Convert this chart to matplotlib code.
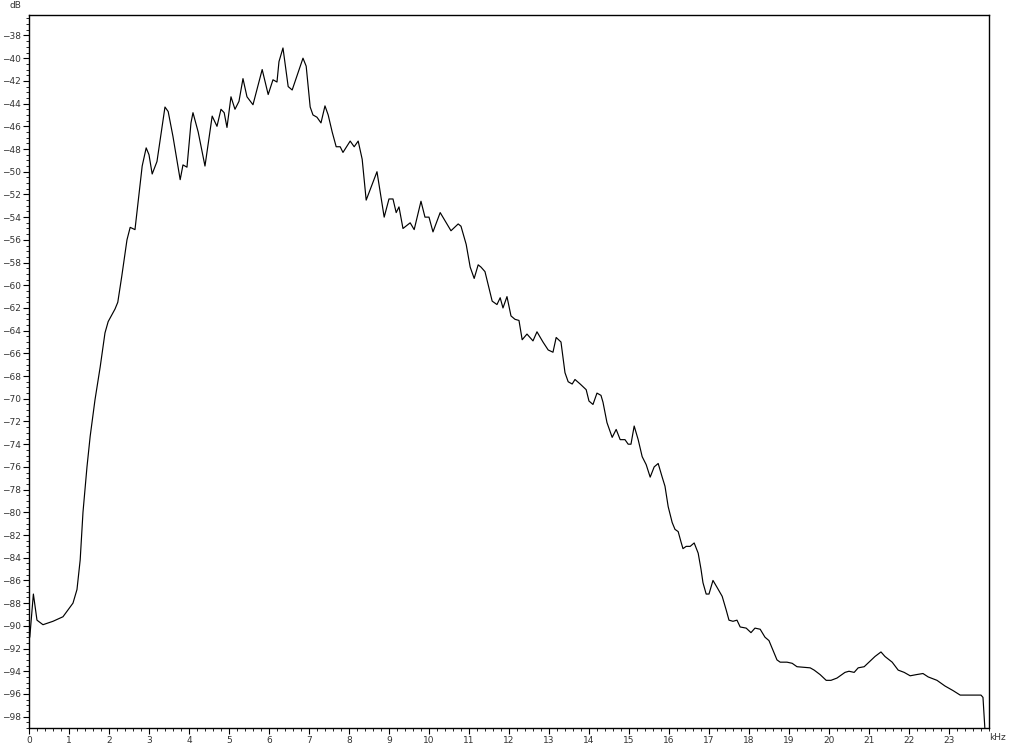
import matplotlib.pyplot as plt
from matplotlib.ticker import MultipleLocator

# spectrum (frequency in kHz, level in dB)
freq_khz = [0.0, 0.02, 0.11, 0.2, 0.35, 0.6, 0.85, 1.1, 1.2, 1.28, 1.35, 1.45,
            1.53, 1.65, 1.78, 1.9, 1.98, 2.15, 2.22, 2.32, 2.45, 2.53, 2.65, 2.83,
            2.93, 3.0, 3.08, 3.2, 3.4, 3.48, 3.6, 3.78, 3.85, 3.95, 4.05, 4.1,
            4.23, 4.4, 4.58, 4.7, 4.8, 4.88, 4.95, 5.05, 5.15, 5.25, 5.35, 5.45,
            5.6, 5.83, 5.98, 6.1, 6.2, 6.25, 6.35, 6.48, 6.58, 6.85, 6.93, 7.03,
            7.1, 7.2, 7.3, 7.4, 7.48, 7.58, 7.68, 7.78, 7.85, 8.03, 8.13, 8.23,
            8.33, 8.43, 8.7, 8.88, 9.0, 9.1, 9.18, 9.25, 9.35, 9.53, 9.63, 9.8,
            9.9, 10.0, 10.1, 10.28, 10.55, 10.73, 10.8, 10.93, 11.03, 11.13, 11.23,
            11.3, 11.4, 11.58, 11.7, 11.78, 11.85, 11.95, 12.05, 12.15, 12.25,
            12.33, 12.45, 12.6, 12.7, 12.85, 12.98, 13.1, 13.18, 13.3, 13.4, 13.48,
            13.58, 13.65, 13.78, 13.93, 14.0, 14.1, 14.2, 14.3, 14.35, 14.45,
            14.58, 14.68, 14.78, 14.9, 14.98, 15.05, 15.13, 15.23, 15.33, 15.43,
            15.53, 15.63, 15.73, 15.83, 15.9, 15.98, 16.08, 16.15, 16.23, 16.3,
            16.35, 16.43, 16.53, 16.63, 16.73, 16.8, 16.85, 16.93, 17.0, 17.1,
            17.2, 17.33, 17.43, 17.5, 17.6, 17.7, 17.78, 17.93, 18.05, 18.15,
            18.28, 18.4, 18.5, 18.7, 18.78, 18.95, 19.08, 19.2, 19.53, 19.63,
            19.78, 19.93, 20.05, 20.2, 20.4, 20.5, 20.63, 20.73, 20.88, 21.0,
            21.15, 21.3, 21.4, 21.58, 21.73, 21.88, 22.03, 22.18, 22.35, 22.48,
            22.7, 22.9, 23.1, 23.28, 23.45, 23.65, 23.8, 23.85, 23.9]
level_db = [-90.0, -91.0, -87.2, -89.5, -89.9, -89.6, -89.2, -88.0, -86.8, -84.2,
            -80.0, -76.0, -73.3, -70.1, -67.2, -64.2, -63.2, -62.1, -61.5, -59.2,
            -56.0, -54.9, -55.1, -49.5, -47.9, -48.5, -50.2, -49.1, -44.3, -44.7,
            -46.9, -50.7, -49.4, -49.6, -45.7, -44.8, -46.5, -49.5, -45.1, -46.0,
            -44.5, -44.8, -46.1, -43.4, -44.5, -43.8, -41.8, -43.4, -44.1, -41.0,
            -43.2, -41.9, -42.1, -40.3, -39.1, -42.5, -42.8, -40.0, -40.7, -44.3,
            -45.0, -45.2, -45.7, -44.2, -45.0, -46.5, -47.8, -47.8, -48.3, -47.3,
            -47.8, -47.3, -48.9, -52.5, -50.0, -54.0, -52.4, -52.4, -53.6, -53.1,
            -55.0, -54.5, -55.1, -52.6, -54.0, -54.0, -55.3, -53.6, -55.2, -54.6,
            -54.8, -56.4, -58.4, -59.4, -58.2, -58.4, -58.8, -61.4, -61.7, -61.1,
            -62.0, -61.0, -62.7, -63.0, -63.1, -64.8, -64.3, -64.9, -64.1, -65.0,
            -65.7, -65.9, -64.6, -65.0, -67.7, -68.5, -68.7, -68.3, -68.7, -69.2,
            -70.2, -70.5, -69.5, -69.7, -70.3, -72.1, -73.4, -72.7, -73.6, -73.6,
            -74.0, -74.0, -72.4, -73.6, -75.1, -75.8, -76.9, -76.0, -75.7, -76.9,
            -77.7, -79.5, -80.9, -81.5, -81.7, -82.6, -83.2, -83.0, -83.0, -82.7,
            -83.6, -85.0, -86.2, -87.2, -87.2, -86.0, -86.6, -87.4, -88.6, -89.5,
            -89.6, -89.5, -90.1, -90.2, -90.6, -90.2, -90.3, -91.0, -91.3, -93.0,
            -93.2, -93.2, -93.3, -93.6, -93.7, -93.9, -94.3, -94.8, -94.8, -94.6,
            -94.1, -94.0, -94.1, -93.7, -93.6, -93.2, -92.7, -92.3, -92.7, -93.2,
            -93.9, -94.1, -94.4, -94.3, -94.2, -94.5, -94.8, -95.3, -95.7, -96.1,
            -96.1, -96.1, -96.1, -96.3, -99.2]

fig = plt.figure(figsize=(10.24, 7.45), dpi=100)
ax = fig.add_axes([0.0283, 0.0228, 0.9375, 0.957])

ax.plot(freq_khz, level_db, color='black', linewidth=0.85)

ax.set_xlim(0, 24)
ax.set_ylim(-99, -36.2)

ax.xaxis.set_major_locator(MultipleLocator(1))
ax.xaxis.set_minor_locator(MultipleLocator(0.2))
ax.yaxis.set_major_locator(MultipleLocator(2))
ax.yaxis.set_minor_locator(MultipleLocator(0.5))
ax.set_xticks(range(0, 24))

ax.tick_params(which='major', length=4, width=0.8, labelsize=6.5,
               labelcolor='#333333', pad=2)
ax.tick_params(which='minor', length=2, width=0.6)
ax.tick_params(top=False, right=False, which='both')

for s in ax.spines.values():
    s.set_linewidth(1.0)

fig.text(15 / 1024, 1 - 5 / 745, 'dB', fontsize=6.5, color='#333333',
         ha='center', va='center')
fig.text(998 / 1024, 1 - 738 / 745, 'kHz', fontsize=6.5, color='#333333',
         ha='center', va='center')

fig.savefig('out.png', dpi=100)
